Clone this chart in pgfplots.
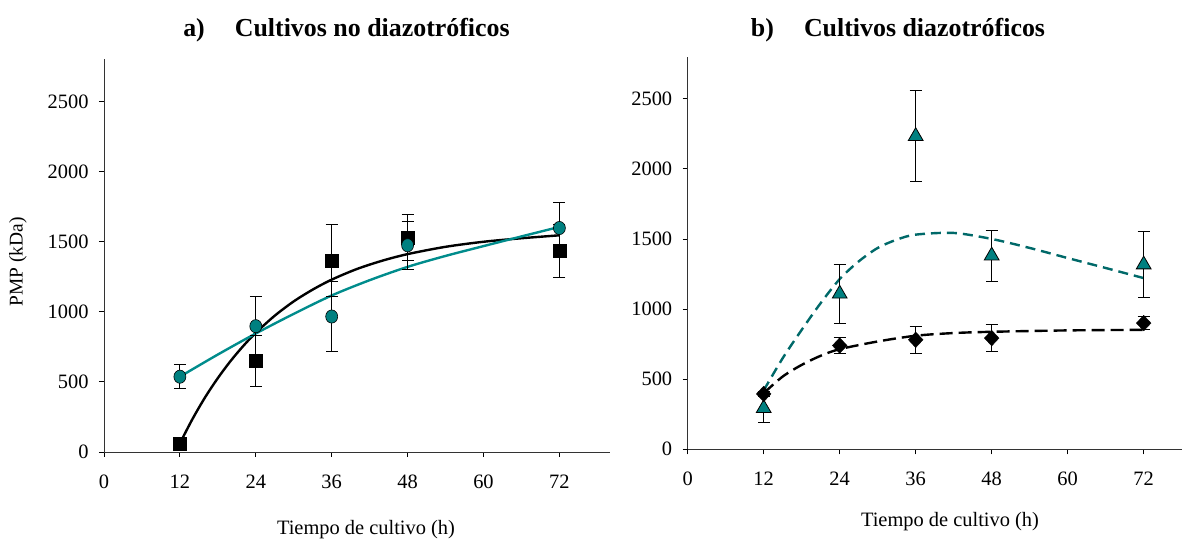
\documentclass[border=0pt]{standalone}
\usepackage{fontspec}
\setmainfont{Liberation Serif}
\usepackage{pgfplots}
\pgfplotsset{compat=1.18}
\definecolor{tealfill}{RGB}{0,128,128}
\definecolor{tealline}{RGB}{0,140,140}
\definecolor{tealdash}{RGB}{0,105,105}
\pgfplotsset{
  myaxis/.style={
    scale only axis,
    axis lines=left,
    axis line style={-, line width=0.8bp, black!80},
    xmin=0, ymin=0, ymax=2800,
    xtick={0,12,24,36,48,60,72},
    ytick={0,500,1000,1500,2000,2500},
    tick align=outside,
    major tick length=5bp,
    tick style={line width=0.8bp, black},
    tick label style={font=\rmfamily\fontsize{20.5}{20.5}\selectfont},
    /pgf/number format/assume math mode=true,
    /pgf/number format/1000 sep={},
    scaled y ticks=false,
    xticklabel style={yshift=-14bp},
    yticklabel style={xshift=-7bp},
    clip=false,
  },
  errb/.style={error bars/.cd, y dir=both, y explicit,
    error bar style={line width=0.8bp, black},
    error mark options={rotate=90, mark size=6bp, line width=0.8bp, black}},
}
\begin{document}
\begin{tikzpicture}
\path[use as bounding box] (0,0) rectangle (1198bp,540bp);
% ---------------- panel a
\begin{axis}[myaxis, at={(104bp,88bp)}, anchor=south west,
  width=506bp, height=392.7bp, xmax=80]
\addplot[black, line width=2.4bp, smooth, no marks] coordinates {
 (12,62) (14,236) (16,391) (18,527) (20,648) (22,755) (24,850) (27,972) (30,1074) (33,1158) (36,1229) (40,1305) (44,1364) (48,1411) (54,1463) (60,1499) (66,1524) (72,1545)};
\addplot[tealline, line width=2.4bp, smooth, no marks] coordinates {
 (12,537) (18,695) (24,845) (30,985) (36,1116) (42,1225) (48,1320) (54,1398) (60,1468) (66,1537) (72,1605)};
\addplot[only marks, mark=square*, mark size=6.5bp, mark options={fill=black, draw=black}, errb] coordinates {
 (12,62) +- (0,15) (24,648) +- (0,180) (36,1365) +- (0,256) (48,1529) +- (0,165) (72,1436) +- (0,190)};
\addplot[only marks, mark=*, mark size=6bp, mark options={fill=tealfill, draw=black, line width=0.6bp, yscale=1.1}, errb] coordinates {
 (12,537) +- (0,87) (24,897) +- (0,216) (36,966) +- (0,250) (48,1474) +- (0,172) (72,1597) +- (0,181)};
\end{axis}
% ---------------- panel b
\begin{axis}[myaxis, at={(687.7bp,90.7bp)}, anchor=south west,
  width=494bp, height=392.6bp, xmax=78]
\addplot[tealdash, line width=2.4bp, smooth, dash pattern=on 10bp off 6bp, no marks] coordinates {
 (12,420) (15,650) (18,852) (21,1043) (24,1214) (27,1340) (30,1436) (33,1495) (36,1531) (42,1543) (48,1500) (54,1436) (60,1364) (66,1293) (72,1221)};
\addplot[black, line width=2.4bp, smooth, dash pattern=on 13bp off 6bp, no marks] coordinates {
 (12,400) (15,519) (18,602) (21,667) (24,714) (30,769) (36,810) (42,829) (48,838) (60,848) (72,852)};
\addplot[only marks, mark=triangle*, mark size=8.5bp, mark options={fill=tealfill, draw=black, line width=0.8bp}, errb] coordinates {
 (12,293) +- (0,98) (24,1109) +- (0,210) (36,2233) +- (0,325) (48,1381) +- (0,183) (72,1317) +- (0,237)};
\addplot[only marks, mark=diamond*, mark size=7.8bp, mark options={fill=black, draw=black, xscale=1.25}, errb] coordinates {
 (12,395) +- (0,20) (24,740) +- (0,55) (36,781) +- (0,95) (48,793) +- (0,95) (72,900) +- (0,47)};
\end{axis}
% ---------------- texts
\node[font=\bfseries\fontsize{26}{26}\selectfont, anchor=base] at (346.5bp,503bp) {a)\hspace{30bp}Cultivos no diazotróficos};
\node[font=\bfseries\fontsize{26}{26}\selectfont, anchor=base] at (898bp,503bp) {b)\hspace{30bp}Cultivos diazotróficos};
\node[font=\fontsize{20.5}{20.5}\selectfont, anchor=base] at (366bp,6bp) {Tiempo de cultivo (h)};
\node[font=\fontsize{20.5}{20.5}\selectfont, anchor=base] at (950bp,14bp) {Tiempo de cultivo (h)};
\node[rotate=90, font=\fontsize{19.5}{19.5}\selectfont] at (18bp,278bp) {PMP (kDa)};
\end{tikzpicture}
\end{document}
